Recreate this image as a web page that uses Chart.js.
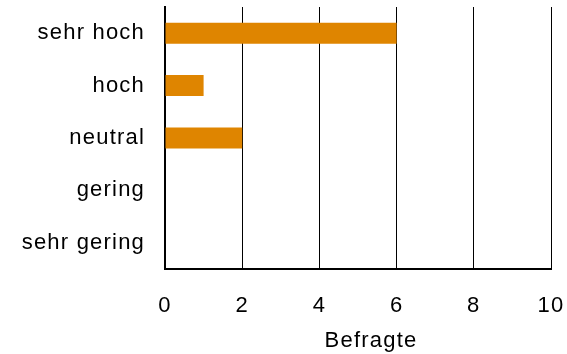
<!DOCTYPE html>
<html>
<head>
<meta charset="utf-8">
<script src="https://cdn.jsdelivr.net/npm/chart.js@4/dist/chart.umd.min.js"></script>
<style>
  html, body { margin: 0; padding: 0; background: #fff; }
  #wrap { width: 567px; height: 354px; }
</style>
</head>
<body>
<div id="wrap"><canvas id="barChart" width="567" height="354"></canvas></div>
<script>
const categories = ['sehr hoch', 'hoch', 'neutral', 'gering', 'sehr gering'];
const befragte = [6, 1, 2, 0, 0];
const xTicks = [0, 2, 4, 6, 8, 10];

// drop the extra padding chart.js adds for first/last tick labels
function noLabelPadding(axis) {
    axis.paddingTop = 0;
    axis.paddingBottom = 0;
    axis.paddingLeft = 0;
    axis.paddingRight = 0;
}

// the original text is a bit wider, spread the letters a little,
// and its axis title sits a bit right of the plot centre
const textTweaks = {
    id: 'textTweaks',
    beforeDraw: (chart) => {
        const c = chart.ctx;
        if ('letterSpacing' in c) c.letterSpacing = '1.2px';
        const sx = chart.scales.x;
        if (sx && !sx._titleShifted) {
            const orig = sx.drawTitle.bind(sx);
            sx.drawTitle = function () {
                c.save();
                c.translate(13, 0);
                orig();
                c.restore();
            };
            sx._titleShifted = true;
        }
    }
};

const ctx = document.getElementById('barChart');
const barChart = new Chart(ctx, {
    type: 'bar',
    data: {
        labels: categories,
        datasets: [
            {
                label: 'Befragte',
                data: befragte,
                backgroundColor: '#DF8500',
                borderWidth: 0,
                barPercentage: 0.4,
                categoryPercentage: 1.0
            }
        ]
    },
    options: {
        indexAxis: 'y',
        responsive: false,
        animation: false,
        layout: {
            padding: { top: 7, right: 16, left: 0, bottom: 0 }
        },
        scales: {
            x: {
                min: xTicks[0],
                max: xTicks[xTicks.length - 1],
                afterBuildTicks: (axis) => { axis.ticks = xTicks.map(v => ({ value: v })); },
                afterFit: (axis) => { noLabelPadding(axis); axis.height = 85; },
                grid: {
                    color: '#000',
                    lineWidth: 1,
                    drawTicks: false
                },
                border: { color: '#000', width: 2 },
                ticks: {
                    color: '#000',
                    padding: 24,
                    font: { family: 'Liberation Sans', size: 22 }
                },
                title: {
                    display: true,
                    text: 'Befragte',
                    color: '#000',
                    padding: { top: 7, bottom: 0 },
                    font: { family: 'Liberation Sans', size: 22 }
                }
            },
            y: {
                afterFit: (axis) => { noLabelPadding(axis); axis.width = 165; },
                grid: { display: false, drawTicks: false },
                border: { color: '#000', width: 2 },
                ticks: {
                    color: '#000',
                    padding: 20,
                    font: { family: 'Liberation Sans', size: 22 }
                }
            }
        },
        plugins: {
            legend: { display: false },
            tooltip: { enabled: false }
        }
    },
    plugins: [textTweaks]
});
</script>
</body>
</html>
